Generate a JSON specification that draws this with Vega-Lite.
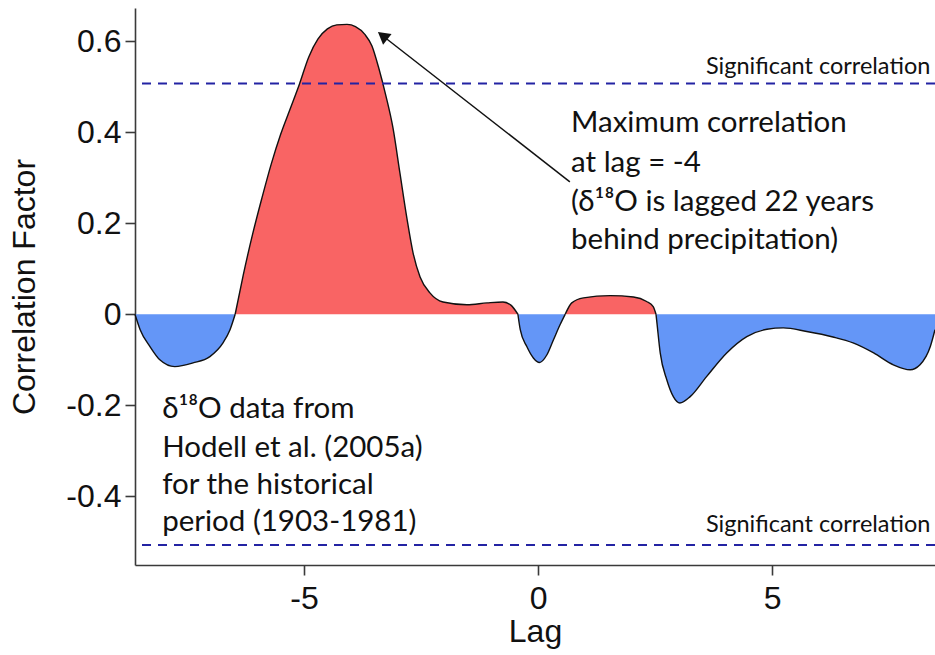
{
  "$schema": "https://vega.github.io/schema/vega-lite/v6.json",
  "width": 800,
  "height": 557,
  "autosize": {"type": "none"},
  "padding": {"left": 135, "top": 8, "right": 0, "bottom": 90},
  "background": "white",
  "config": {
    "view": {"stroke": null},
    "axis": {
      "labelFont": "Liberation Sans",
      "titleFont": "Liberation Sans",
      "labelFontSize": 32,
      "titleFontSize": 32,
      "labelColor": "#111",
      "titleColor": "#111",
      "titleFontWeight": "normal",
      "domainColor": "#3a3a3a",
      "domainWidth": 1.6,
      "tickColor": "#3a3a3a",
      "tickWidth": 1.6,
      "tickSize": 10,
      "grid": false
    }
  },
  "datasets": {
    "ccf": [
      {"lag": -8.61, "r": 0.0, "seg": 1, "sign": "neg"},
      {"lag": -8.5, "r": -0.034, "seg": 1, "sign": "neg"},
      {"lag": -8.29, "r": -0.071, "seg": 1, "sign": "neg"},
      {"lag": -8.08, "r": -0.1, "seg": 1, "sign": "neg"},
      {"lag": -7.76, "r": -0.115, "seg": 1, "sign": "neg"},
      {"lag": -7.37, "r": -0.107, "seg": 1, "sign": "neg"},
      {"lag": -7.01, "r": -0.093, "seg": 1, "sign": "neg"},
      {"lag": -6.73, "r": -0.063, "seg": 1, "sign": "neg"},
      {"lag": -6.58, "r": -0.034, "seg": 1, "sign": "neg"},
      {"lag": -6.47, "r": 0.0, "seg": 1, "sign": "neg"},

      {"lag": -6.47, "r": 0.0, "seg": 2, "sign": "pos"},
      {"lag": -6.3, "r": 0.085, "seg": 2, "sign": "pos"},
      {"lag": -6.1, "r": 0.175, "seg": 2, "sign": "pos"},
      {"lag": -5.9, "r": 0.255, "seg": 2, "sign": "pos"},
      {"lag": -5.7, "r": 0.33, "seg": 2, "sign": "pos"},
      {"lag": -5.5, "r": 0.395, "seg": 2, "sign": "pos"},
      {"lag": -5.3, "r": 0.45, "seg": 2, "sign": "pos"},
      {"lag": -5.1, "r": 0.505, "seg": 2, "sign": "pos"},
      {"lag": -4.9, "r": 0.565, "seg": 2, "sign": "pos"},
      {"lag": -4.7, "r": 0.605, "seg": 2, "sign": "pos"},
      {"lag": -4.5, "r": 0.627, "seg": 2, "sign": "pos"},
      {"lag": -4.3, "r": 0.636, "seg": 2, "sign": "pos"},
      {"lag": -4.08, "r": 0.637, "seg": 2, "sign": "pos"},
      {"lag": -3.9, "r": 0.632, "seg": 2, "sign": "pos"},
      {"lag": -3.7, "r": 0.615, "seg": 2, "sign": "pos"},
      {"lag": -3.55, "r": 0.59, "seg": 2, "sign": "pos"},
      {"lag": -3.4, "r": 0.54, "seg": 2, "sign": "pos"},
      {"lag": -3.25, "r": 0.48, "seg": 2, "sign": "pos"},
      {"lag": -3.1, "r": 0.41, "seg": 2, "sign": "pos"},
      {"lag": -2.95, "r": 0.31, "seg": 2, "sign": "pos"},
      {"lag": -2.8, "r": 0.21, "seg": 2, "sign": "pos"},
      {"lag": -2.67, "r": 0.135, "seg": 2, "sign": "pos"},
      {"lag": -2.52, "r": 0.082, "seg": 2, "sign": "pos"},
      {"lag": -2.31, "r": 0.047, "seg": 2, "sign": "pos"},
      {"lag": -2.03, "r": 0.027, "seg": 2, "sign": "pos"},
      {"lag": -1.52, "r": 0.021, "seg": 2, "sign": "pos"},
      {"lag": -1.09, "r": 0.025, "seg": 2, "sign": "pos"},
      {"lag": -0.75, "r": 0.027, "seg": 2, "sign": "pos"},
      {"lag": -0.58, "r": 0.02, "seg": 2, "sign": "pos"},
      {"lag": -0.43, "r": 0.0, "seg": 2, "sign": "pos"},

      {"lag": -0.43, "r": 0.0, "seg": 3, "sign": "neg"},
      {"lag": -0.38, "r": -0.034, "seg": 3, "sign": "neg"},
      {"lag": -0.24, "r": -0.071, "seg": 3, "sign": "neg"},
      {"lag": -0.1, "r": -0.096, "seg": 3, "sign": "neg"},
      {"lag": 0.03, "r": -0.106, "seg": 3, "sign": "neg"},
      {"lag": 0.19, "r": -0.089, "seg": 3, "sign": "neg"},
      {"lag": 0.33, "r": -0.056, "seg": 3, "sign": "neg"},
      {"lag": 0.47, "r": -0.023, "seg": 3, "sign": "neg"},
      {"lag": 0.58, "r": 0.0, "seg": 3, "sign": "neg"},

      {"lag": 0.58, "r": 0.0, "seg": 4, "sign": "pos"},
      {"lag": 0.72, "r": 0.025, "seg": 4, "sign": "pos"},
      {"lag": 0.97, "r": 0.036, "seg": 4, "sign": "pos"},
      {"lag": 1.54, "r": 0.041, "seg": 4, "sign": "pos"},
      {"lag": 2.04, "r": 0.038, "seg": 4, "sign": "pos"},
      {"lag": 2.32, "r": 0.028, "seg": 4, "sign": "pos"},
      {"lag": 2.46, "r": 0.017, "seg": 4, "sign": "pos"},
      {"lag": 2.52, "r": 0.0, "seg": 4, "sign": "pos"},

      {"lag": 2.52, "r": 0.0, "seg": 5, "sign": "neg"},
      {"lag": 2.54, "r": -0.019, "seg": 5, "sign": "neg"},
      {"lag": 2.61, "r": -0.085, "seg": 5, "sign": "neg"},
      {"lag": 2.75, "r": -0.144, "seg": 5, "sign": "neg"},
      {"lag": 2.89, "r": -0.181, "seg": 5, "sign": "neg"},
      {"lag": 3.03, "r": -0.195, "seg": 5, "sign": "neg"},
      {"lag": 3.25, "r": -0.181, "seg": 5, "sign": "neg"},
      {"lag": 3.6, "r": -0.137, "seg": 5, "sign": "neg"},
      {"lag": 4.03, "r": -0.085, "seg": 5, "sign": "neg"},
      {"lag": 4.46, "r": -0.049, "seg": 5, "sign": "neg"},
      {"lag": 4.89, "r": -0.033, "seg": 5, "sign": "neg"},
      {"lag": 5.24, "r": -0.03, "seg": 5, "sign": "neg"},
      {"lag": 5.74, "r": -0.038, "seg": 5, "sign": "neg"},
      {"lag": 6.3, "r": -0.05, "seg": 5, "sign": "neg"},
      {"lag": 6.73, "r": -0.063, "seg": 5, "sign": "neg"},
      {"lag": 7.17, "r": -0.085, "seg": 5, "sign": "neg"},
      {"lag": 7.59, "r": -0.111, "seg": 5, "sign": "neg"},
      {"lag": 7.95, "r": -0.122, "seg": 5, "sign": "neg"},
      {"lag": 8.16, "r": -0.111, "seg": 5, "sign": "neg"},
      {"lag": 8.38, "r": -0.071, "seg": 5, "sign": "neg"},
      {"lag": 8.48, "r": -0.034, "seg": 5, "sign": "neg"}
    ],
    "significance": [
      {"r": 0.507, "label": "Significant correlation", "labelLag": 8.38, "labelR": 0.527},
      {"r": -0.507, "label": "Significant correlation", "labelLag": 8.38, "labelR": -0.478}
    ],
    "notes": [
      {"lag": 0.705, "r": 0.401, "text": "Maximum correlation"},
      {"lag": 0.705, "r": 0.313, "text": "at lag = -4"},
      {"lag": 0.705, "r": 0.228, "text": "(δ¹⁸O is lagged 22 years"},
      {"lag": 0.705, "r": 0.144, "text": "behind precipitation)"},
      {"lag": -8.03, "r": -0.228, "text": "δ¹⁸O data from"},
      {"lag": -8.03, "r": -0.313, "text": "Hodell et al. (2005a)"},
      {"lag": -8.03, "r": -0.395, "text": "for the historical"},
      {"lag": -8.03, "r": -0.476, "text": "period (1903-1981)"}
    ],
    "arrow": [
      {"lag": 0.68, "r": 0.291, "part": "tail"},
      {"lag": -3.32, "r": 0.612, "part": "head"}
    ]
  },
  "encoding": {
    "x": {
      "field": "lag",
      "type": "quantitative",
      "scale": {"domain": [-8.61, 8.48], "nice": false, "zero": false},
      "axis": {
        "title": "Lag",
        "values": [-5, 0, 5],
        "labelExpr": "replace(format(datum.value, 'd'), '\u2212', '-')",
        "labelPadding": 8,
        "titlePadding": 2
      }
    },
    "y": {
      "field": "r",
      "type": "quantitative",
      "scale": {"domain": [-0.551, 0.673], "nice": false, "zero": false},
      "axis": {
        "title": "Correlation Factor",
        "values": [-0.4, -0.2, 0, 0.2, 0.4, 0.6],
        "labelExpr": "replace(format(datum.value, '.1~f'), '\u2212', '-')",
        "labelPadding": 4,
        "titlePadding": 24
      }
    }
  },
  "layer": [
    {
      "data": {"name": "ccf"},
      "mark": {"type": "area", "interpolate": "monotone", "opacity": 1},
      "encoding": {
        "y2": {"datum": 0},
        "detail": {"field": "seg", "type": "nominal"},
        "color": {
          "field": "sign",
          "type": "nominal",
          "scale": {"domain": ["pos", "neg"], "range": ["#f96464", "#6496f7"]},
          "legend": null
        }
      }
    },
    {
      "data": {"name": "ccf"},
      "mark": {"type": "line", "interpolate": "monotone", "color": "#111", "strokeWidth": 1.4},
      "encoding": {"detail": {"field": "seg", "type": "nominal"}}
    },
    {
      "data": {"values": [{}]},
      "mark": {"type": "rule", "color": "#c8c8c8", "strokeWidth": 1.5, "strokeDash": [4, 3]},
      "encoding": {"x": {"datum": 0}, "y": null}
    },
    {
      "data": {"values": [{}]},
      "mark": {"type": "rule", "color": "#111", "strokeWidth": 1.5},
      "encoding": {"y": {"datum": 0}, "x": null}
    },
    {
      "data": {"values": [{}]},
      "mark": {"type": "rule", "color": "#111", "strokeWidth": 1.6},
      "encoding": {"y": {"datum": 0.673}, "x": null}
    },
    {
      "data": {"name": "significance"},
      "mark": {"type": "rule", "color": "#2323a3", "strokeWidth": 2, "strokeDash": [9, 7]},
      "encoding": {"y": {"field": "r", "type": "quantitative"}, "x": null}
    },
    {
      "data": {"name": "significance"},
      "mark": {"type": "text", "font": "Lato", "fontSize": 23.5, "align": "right", "baseline": "alphabetic", "color": "#111"},
      "encoding": {
        "x": {"field": "labelLag", "type": "quantitative"},
        "y": {"field": "labelR", "type": "quantitative"},
        "text": {"field": "label"}
      }
    },
    {
      "data": {"name": "notes"},
      "mark": {"type": "text", "font": "Lato", "fontSize": 29.5, "align": "left", "baseline": "alphabetic", "color": "#111"},
      "encoding": {"text": {"field": "text"}}
    },
    {
      "data": {"name": "arrow"},
      "mark": {"type": "line", "color": "#111", "strokeWidth": 1.5},
      "encoding": {}
    },
    {
      "data": {"name": "arrow"},
      "transform": [{"filter": "datum.part == 'head'"}],
      "mark": {"type": "point", "shape": "triangle-up", "filled": true, "color": "#111", "size": 190, "angle": 308, "opacity": 1},
      "encoding": {}
    }
  ]
}
